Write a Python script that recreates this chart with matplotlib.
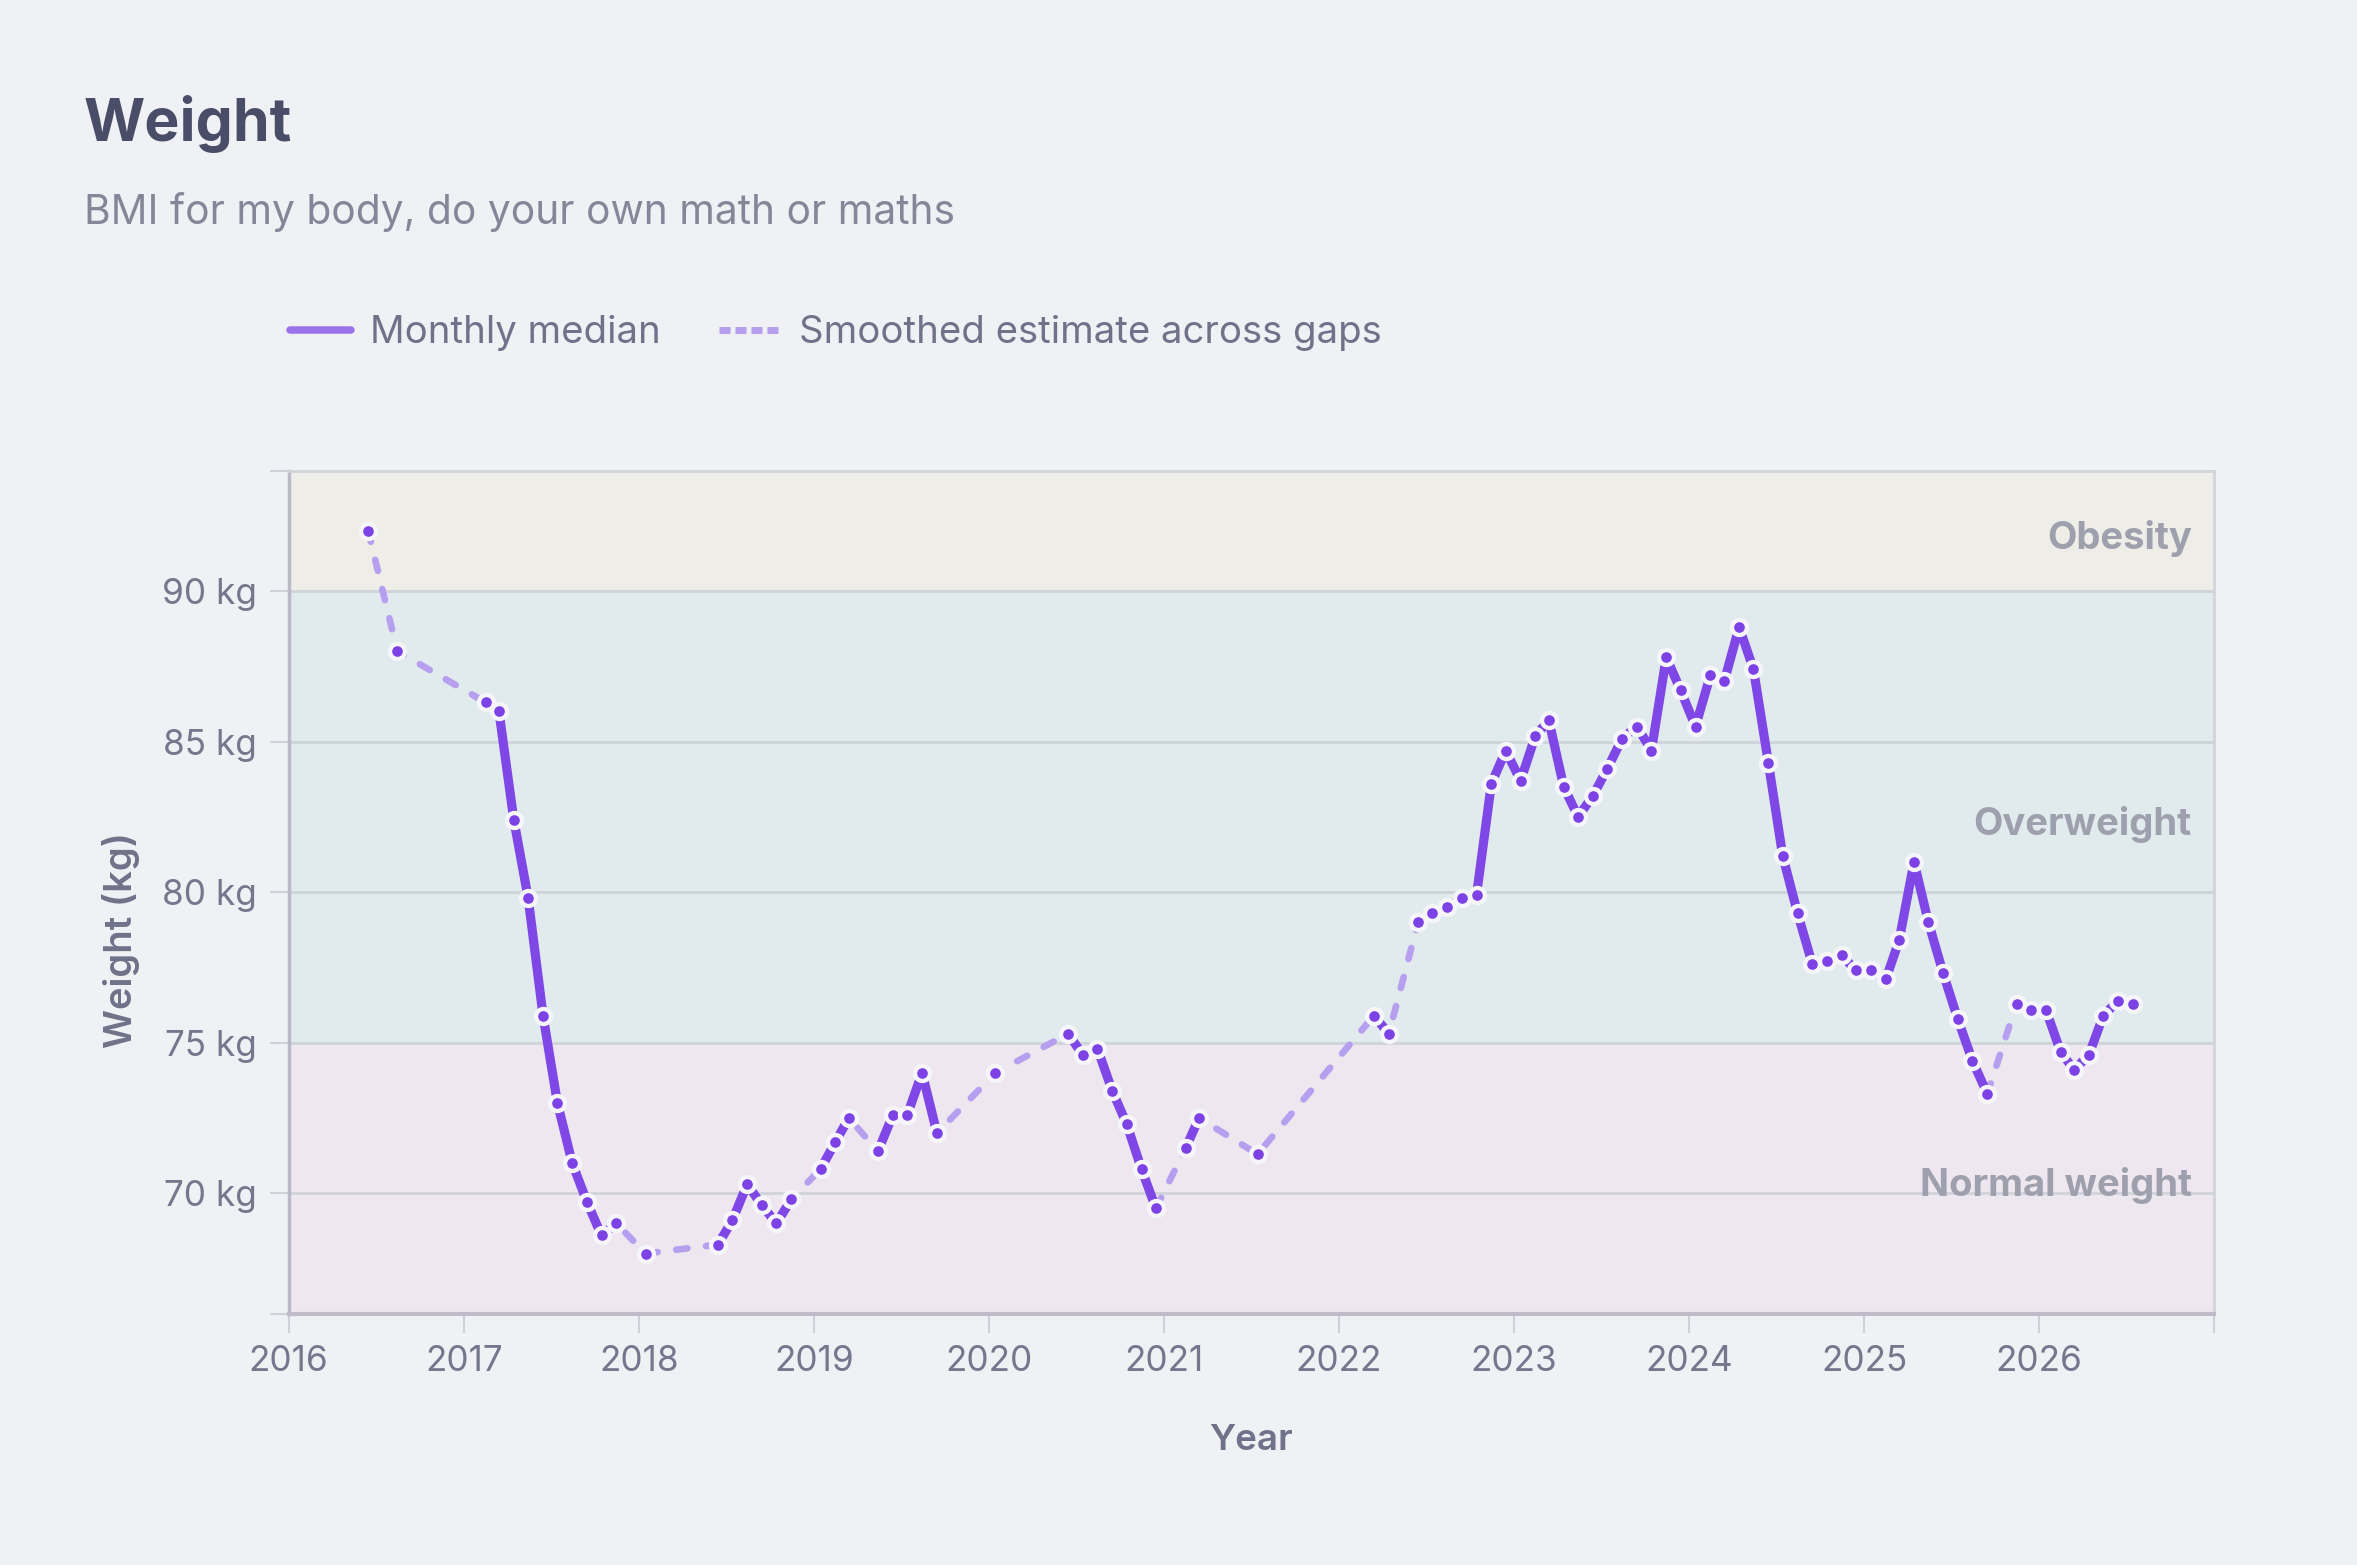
import datetime as dt
import matplotlib
matplotlib.use("Agg")
import matplotlib.pyplot as plt
from matplotlib.lines import Line2D

plt.rcParams['font.family'] = ['Inter', 'DejaVu Sans']

# monthly medians (year-month, kg)
months = [
    "2016-06", "2016-08", "2017-02", "2017-03", "2017-04", "2017-05", "2017-06",
    "2017-07", "2017-08", "2017-09", "2017-10", "2017-11", "2018-01", "2018-06",
    "2018-07", "2018-08", "2018-09", "2018-10", "2018-11", "2019-01", "2019-02",
    "2019-03", "2019-05", "2019-06", "2019-07", "2019-08", "2019-09", "2020-01",
    "2020-06", "2020-07", "2020-08", "2020-09", "2020-10", "2020-11", "2020-12",
    "2021-02", "2021-03", "2021-07", "2022-03", "2022-04", "2022-06", "2022-07",
    "2022-08", "2022-09", "2022-10", "2022-11", "2022-12", "2023-01", "2023-02",
    "2023-03", "2023-04", "2023-05", "2023-06", "2023-07", "2023-08", "2023-09",
    "2023-10", "2023-11", "2023-12", "2024-01", "2024-02", "2024-03", "2024-04",
    "2024-05", "2024-06", "2024-07", "2024-08", "2024-09", "2024-10", "2024-11",
    "2024-12", "2025-01", "2025-02", "2025-03", "2025-04", "2025-05", "2025-06",
    "2025-07", "2025-08", "2025-09", "2025-11", "2025-12", "2026-01", "2026-02",
    "2026-03", "2026-04", "2026-05", "2026-06", "2026-07",
]
weights = [
    92.0, 88.0, 86.3, 86.0, 82.4, 79.8, 75.9,
    73.0, 71.0, 69.7, 68.6, 69.0, 68.0, 68.3,
    69.1, 70.3, 69.6, 69.0, 69.8, 70.8, 71.7,
    72.5, 71.4, 72.6, 72.6, 74.0, 72.0, 74.0,
    75.3, 74.6, 74.8, 73.4, 72.3, 70.8, 69.5,
    71.5, 72.5, 71.3, 75.9, 75.3, 79.0, 79.3,
    79.5, 79.8, 79.9, 83.6, 84.7, 83.7, 85.2,
    85.7, 83.5, 82.5, 83.2, 84.1, 85.1, 85.5,
    84.7, 87.8, 86.7, 85.5, 87.2, 87.0, 88.8,
    87.4, 84.3, 81.2, 79.3, 77.6, 77.7, 77.9,
    77.4, 77.4, 77.1, 78.4, 81.0, 79.0, 77.3,
    75.8, 74.4, 73.3, 76.3, 76.1, 76.1, 74.7,
    74.1, 74.6, 75.9, 76.4, 76.3,
]

# BMI bands (kg)
band_names = ["Normal weight", "Overweight", "Obesity"]
band_lo = [66, 75, 90]
band_hi = [75, 90, 94]
band_colors = ["#eee7ef", "#e1ebee", "#eeede8"]

y_ticks = [70, 75, 80, 85, 90]
years = list(range(2016, 2028))

solid_color = "#7f47e6"
dash_color = "#b79ff0"
marker_color = "#7c42e6"
bg = "#f0f1f5"
tick_text = "#75788d"
label_color = "#6f7289"

dates = [dt.datetime(int(m[:4]), int(m[5:]), 15) for m in months]
month_idx = [int(m[:4]) * 12 + int(m[5:]) for m in months]

fig = plt.figure(figsize=(23.57, 15.65), dpi=100, facecolor=bg)
ax = fig.add_axes([288.6 / 2357, 1 - 1313.8 / 1565, (2214 - 288.6) / 2357, (1313.8 - 470.5) / 1565])
ax.set_facecolor(bg)

ax.set_xlim(dt.datetime(2016, 1, 1), dt.datetime(2027, 1, 1))
ax.set_ylim(66, 94)

for name, lo, hi, c in zip(band_names, band_lo, band_hi, band_colors):
    ax.axhspan(lo, hi, color=c, zorder=0, lw=0)
    ax.text(0.9884, (lo + hi) / 2 - 0.25, name, transform=ax.get_yaxis_transform(),
            ha="right", va="center", fontsize=27.5, fontweight="bold", color="#9ea1ad", zorder=1)

for y in y_ticks:
    ax.axhline(y, color="#cfd3da", lw=2, zorder=0.5)

# smoothed estimate drawn under the whole series
ax.plot(dates, weights, color=dash_color, lw=4.8, dashes=(1.7, 2.8),
        dash_capstyle="round", solid_capstyle="round", zorder=2)


def draw_run(idx):
    if len(idx) > 1:
        ax.plot([dates[k] for k in idx], [weights[k] for k in idx], color=solid_color,
                lw=6.6, solid_capstyle="round", solid_joinstyle="round", zorder=3)


# solid runs where months are consecutive
run = [0]
for i in range(1, len(dates)):
    if month_idx[i] - month_idx[i - 1] == 1:
        run.append(i)
    else:
        draw_run(run)
        run = [i]
draw_run(run)

ax.plot(dates, weights, ls="none", marker="o", ms=10.8, mfc=marker_color, mec="#f6f6fa", mew=3.1, zorder=4)

ax.set_xticks([dt.datetime(y, 1, 1) for y in years])
ax.set_xticklabels([str(y) for y in years[:-1]] + [""])
ax.set_yticks([66] + y_ticks + [94])
ax.set_yticklabels([""] + [f"{y} kg" for y in y_ticks] + [""])
ax.tick_params(axis="both", length=13.5, width=1.5, color="#cfd0d8", labelsize=25.3, labelcolor=tick_text, pad=9)

for side in ["top", "right"]:
    ax.spines[side].set_color("#d3d4da")
    ax.spines[side].set_linewidth(2)
ax.spines["left"].set_color("#b9bac5")
ax.spines["left"].set_linewidth(2.5)
ax.spines["bottom"].set_color("#c0bbc9")
ax.spines["bottom"].set_linewidth(3)

fig.text(84 / 2357, 1 - 140.7 / 1565, "Weight", fontsize=42.5, fontweight="bold", color="#4a4d68", va="baseline")
fig.text(84 / 2357, 1 - 224 / 1565, "BMI for my body, do your own math or maths", fontsize=29.3,
         color="#858799", va="baseline")
fig.text(121 / 2357, 1 - 939.5 / 1565, "Weight (kg)", rotation=90, fontsize=27.5, fontweight="semibold",
         color=label_color, ha="center", va="center")
fig.text(1251 / 2357, 1 - 1441 / 1565, "Year", fontsize=26.5, fontweight="semibold",
         color=label_color, ha="center", va="center")

handles = [
    Line2D([], [], color="#9a72ea", lw=5.4, solid_capstyle="round"),
    Line2D([], [], color=dash_color, lw=5.0, dashes=(1.6, 0.7)),
]
fig.legend(handles, ["Monthly median", "Smoothed estimate across gaps"], loc="center left",
           bbox_to_anchor=(290 / 2357, 1 - 333 / 1565), ncol=2, frameon=False, fontsize=27.6,
           handlelength=1.6, handletextpad=0.5, columnspacing=1.5, borderpad=0, borderaxespad=0,
           labelcolor=label_color)

fig.savefig("out.png", dpi=100, facecolor=bg)
